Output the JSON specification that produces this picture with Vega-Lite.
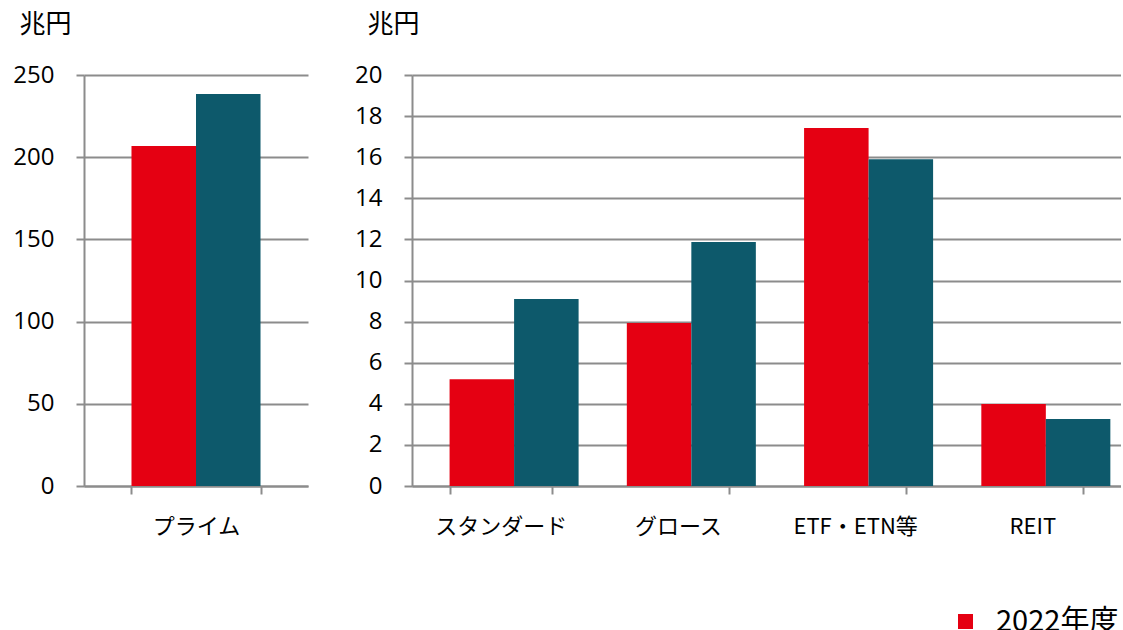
{
  "$schema": "https://vega.github.io/schema/vega-lite/v6.json",
  "background": "white",
  "padding": {"left": 12, "top": 11, "right": 0, "bottom": 0},
  "config": {
    "font": "Noto Sans CJK JP",
    "view": {"stroke": null},
    "axis": {
      "labelFont": "Open Sans",
      "labelFontSize": 24,
      "labelColor": "#000000",
      "domainColor": "#8c8c8c",
      "domainWidth": 2,
      "tickColor": "#8c8c8c",
      "tickWidth": 2,
      "tickSize": 8,
      "gridColor": "#8c8c8c",
      "gridWidth": 2
    }
  },
  "datasets": {
    "d": [
      {"panel": "left", "category": "プライム", "series": "2022年度", "value": 206.8},
      {"panel": "left", "category": "プライム", "series": "2023年度", "value": 238.4},
      {"panel": "right", "category": "スタンダード", "series": "2022年度", "value": 5.2},
      {"panel": "right", "category": "スタンダード", "series": "2023年度", "value": 9.1},
      {"panel": "right", "category": "グロース", "series": "2022年度", "value": 7.93},
      {"panel": "right", "category": "グロース", "series": "2023年度", "value": 11.87},
      {"panel": "right", "category": "ETF・ETN等", "series": "2022年度", "value": 17.42},
      {"panel": "right", "category": "ETF・ETN等", "series": "2023年度", "value": 15.9},
      {"panel": "right", "category": "REIT", "series": "2022年度", "value": 3.99},
      {"panel": "right", "category": "REIT", "series": "2023年度", "value": 3.26}
    ]
  },
  "spacing": 46,
  "hconcat": [
    {
      "width": 224,
      "height": 411,
      "data": {"name": "d"},
      "transform": [{"filter": "datum.panel === 'left'"}],
      "mark": {"type": "bar"},
      "encoding": {
        "x": {
          "field": "category", "type": "nominal", "sort": null,
          "scale": {"paddingInner": 0.424, "paddingOuter": 0.212},
          "axis": {"title": null, "labelAngle": 0, "tickBand": "extent", "labelPadding": 22, "labelFont": "Noto Sans CJK JP", "labelFontSize": 22, "grid": false}
        },
        "xOffset": {"field": "series", "type": "nominal", "sort": null, "scale": {"paddingInner": 0, "paddingOuter": 0}},
        "y": {
          "field": "value", "type": "quantitative",
          "scale": {"domain": [0, 250], "nice": false},
          "axis": {"values": [0, 50, 100, 150, 200, 250], "title": "兆円", "titleAngle": 0, "titleAlign": "left", "titleBaseline": "top", "titleX": -65, "titleY": -64, "titleFontSize": 26, "titleFontWeight": "normal", "titleFont": "Noto Sans CJK JP", "titleColor": "#000000", "labelPadding": 22, "grid": true}
        },
        "color": {
          "field": "series", "type": "nominal",
          "scale": {"domain": ["2022年度", "2023年度"], "range": ["#E50012", "#0D596B"]},
          "legend": {"values": ["2022年度"], "title": null, "orient": "none", "legendX": 867, "legendY": 532, "symbolType": "square", "symbolSize": 225, "symbolStrokeWidth": 0, "labelFontSize": 29, "labelFont": "Noto Sans CJK JP", "labelColor": "#000000", "labelOffset": 16}
        }
      }
    },
    {
      "width": 709,
      "height": 411,
      "data": {"name": "d"},
      "transform": [{"filter": "datum.panel === 'right'"}],
      "mark": {"type": "bar"},
      "encoding": {
        "x": {
          "field": "category", "type": "nominal", "sort": null,
          "scale": {"paddingInner": 0.424, "paddingOuter": 0.212},
          "axis": {"title": null, "labelAngle": 0, "tickBand": "extent", "labelPadding": 22, "labelFont": "Noto Sans CJK JP", "labelFontSize": 22, "grid": false}
        },
        "xOffset": {"field": "series", "type": "nominal", "sort": null, "scale": {"paddingInner": 0, "paddingOuter": 0}},
        "y": {
          "field": "value", "type": "quantitative",
          "scale": {"domain": [0, 20], "nice": false},
          "axis": {"values": [0, 2, 4, 6, 8, 10, 12, 14, 16, 18, 20], "title": "兆円", "titleAngle": 0, "titleAlign": "left", "titleBaseline": "top", "titleX": -45, "titleY": -64, "titleFontSize": 26, "titleFontWeight": "normal", "titleFont": "Noto Sans CJK JP", "titleColor": "#000000", "labelPadding": 22, "grid": true}
        },
        "color": {
          "field": "series", "type": "nominal",
          "scale": {"domain": ["2022年度", "2023年度"], "range": ["#E50012", "#0D596B"]},
          "legend": {"values": ["2022年度"], "title": null, "orient": "none", "legendX": 867, "legendY": 532, "symbolType": "square", "symbolSize": 225, "symbolStrokeWidth": 0, "labelFontSize": 29, "labelFont": "Noto Sans CJK JP", "labelColor": "#000000", "labelOffset": 16}
        }
      }
    }
  ]
}
